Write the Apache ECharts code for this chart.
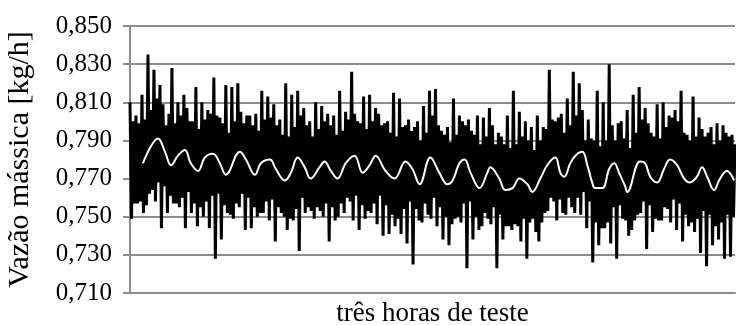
<!DOCTYPE html>
<html>
<head>
<meta charset="utf-8">
<script src="https://cdn.jsdelivr.net/npm/echarts@6/dist/echarts.min.js"></script>
<style>
  html, body { margin: 0; padding: 0; background: #fff; }
  #chart { width: 736px; height: 325px; }
</style>
</head>
<body>
<div id="chart"></div>
<script>
// medição bruta (picos e vales + núcleo denso)
const vazao = [
  0.810,0.749,0.800,0.757, 0.803,0.757,0.799,0.758, 0.814,0.752,0.801,0.756, 0.835,0.762,0.806,0.764,
  0.827,0.758,0.812,0.768, 0.819,0.744,0.809,0.766, 0.798,0.752,0.804,0.761, 0.828,0.757,0.799,0.757,
  0.810,0.755,0.803,0.760, 0.814,0.744,0.807,0.763, 0.800,0.752,0.800,0.757, 0.818,0.745,0.796,0.755,
  0.810,0.750,0.801,0.758, 0.806,0.744,0.804,0.761, 0.823,0.728,0.803,0.762, 0.802,0.738,0.799,0.756,
  0.819,0.752,0.794,0.751, 0.818,0.749,0.800,0.757, 0.820,0.755,0.805,0.762, 0.799,0.743,0.803,0.760,
  0.803,0.744,0.798,0.755, 0.804,0.750,0.795,0.752, 0.816,0.752,0.801,0.758, 0.813,0.748,0.802,0.759,
  0.809,0.737,0.798,0.755, 0.801,0.752,0.793,0.750, 0.820,0.743,0.792,0.749, 0.814,0.748,0.797,0.754,
  0.816,0.732,0.803,0.760, 0.807,0.752,0.798,0.755, 0.800,0.753,0.792,0.749, 0.810,0.755,0.796,0.753,
  0.808,0.750,0.800,0.757, 0.804,0.737,0.798,0.755, 0.803,0.748,0.793,0.750, 0.816,0.757,0.795,0.752,
  0.805,0.760,0.801,0.758, 0.826,0.748,0.804,0.761, 0.800,0.743,0.799,0.756, 0.813,0.749,0.796,0.753,
  0.814,0.752,0.800,0.757, 0.807,0.746,0.804,0.761, 0.798,0.740,0.799,0.756, 0.800,0.741,0.794,0.751,
  0.815,0.745,0.792,0.749, 0.812,0.741,0.797,0.754, 0.798,0.736,0.801,0.758, 0.795,0.725,0.797,0.754,
  0.800,0.748,0.790,0.747, 0.808,0.757,0.794,0.751, 0.816,0.749,0.803,0.760, 0.817,0.745,0.798,0.755,
  0.795,0.738,0.793,0.750, 0.797,0.735,0.789,0.746, 0.812,0.749,0.793,0.750, 0.803,0.747,0.800,0.757,
  0.798,0.723,0.801,0.758, 0.795,0.738,0.793,0.750, 0.803,0.743,0.788,0.745, 0.802,0.752,0.792,0.749,
  0.807,0.746,0.798,0.755, 0.788,0.723,0.794,0.751, 0.792,0.738,0.788,0.745, 0.803,0.745,0.786,0.743,
  0.816,0.746,0.788,0.745, 0.805,0.737,0.792,0.749, 0.800,0.728,0.790,0.747, 0.797,0.749,0.785,0.742,
  0.803,0.737,0.790,0.747, 0.797,0.752,0.796,0.753, 0.827,0.760,0.801,0.758, 0.800,0.748,0.802,0.759,
  0.804,0.752,0.794,0.751, 0.812,0.760,0.798,0.755, 0.826,0.752,0.803,0.760, 0.820,0.751,0.806,0.763,
  0.790,0.744,0.801,0.758, 0.791,0.726,0.790,0.747, 0.816,0.735,0.787,0.744, 0.810,0.744,0.790,0.747,
  0.830,0.736,0.798,0.755, 0.790,0.728,0.799,0.756, 0.800,0.749,0.791,0.748, 0.806,0.740,0.786,0.743,
  0.814,0.748,0.794,0.751, 0.818,0.752,0.801,0.758, 0.807,0.733,0.799,0.756, 0.794,0.742,0.792,0.749,
  0.809,0.748,0.791,0.748, 0.810,0.755,0.797,0.754, 0.803,0.747,0.802,0.759, 0.806,0.743,0.800,0.757,
  0.816,0.737,0.794,0.751, 0.793,0.745,0.790,0.747, 0.813,0.742,0.792,0.749, 0.802,0.731,0.796,0.753,
  0.792,0.724,0.794,0.751, 0.797,0.735,0.788,0.745, 0.799,0.738,0.790,0.747, 0.798,0.728,0.794,0.751,
  0.792,0.729,0.793,0.750, 0.788
];

// média móvel (linha branca): posição em amostras e valor
const mediaPos = [
  8.6, 14, 18.6, 23.4, 27.4, 32, 36.6, 40.6, 45.4, 50, 55.4, 60, 64, 73.4, 77.4, 83.4, 87.4, 93.4, 97.4, 103.4,
  107.4, 112, 116.6, 120.6, 126.6, 130, 133.4, 138.6, 144, 150, 155.4, 160, 164, 170.6, 176.6, 184, 188.6, 193.4, 200.6, 206.6,
  212, 215.4, 220, 223.4, 227.4, 233.4, 238.6, 240.6, 246.6, 250.6, 255.4, 260, 265.4, 268.6, 274, 278.6, 284, 287.4, 290, 294,
  297.4, 302, 305.4, 308.6, 310.6, 315.4, 320, 323.4, 326.6, 330.6, 332, 340.6, 344, 347.4, 352, 356.6, 360.6, 365.4, 370, 374,
  378.6, 382, 385.4, 390, 394, 398.6, 403.4
];
const mediaVal = [
  0.778, 0.787, 0.791, 0.784, 0.777, 0.782, 0.785, 0.778, 0.774, 0.781, 0.783, 0.778, 0.772, 0.784, 0.780, 0.772, 0.778, 0.780, 0.775, 0.769,
  0.773, 0.781, 0.776, 0.770, 0.776, 0.779, 0.775, 0.770, 0.778, 0.782, 0.773, 0.777, 0.782, 0.774, 0.770, 0.779, 0.775, 0.767, 0.781, 0.773,
  0.767, 0.769, 0.778, 0.780, 0.773, 0.765, 0.773, 0.776, 0.770, 0.764, 0.765, 0.770, 0.767, 0.763, 0.770, 0.777, 0.781, 0.773, 0.771, 0.778,
  0.782, 0.784, 0.777, 0.768, 0.765, 0.765, 0.775, 0.778, 0.773, 0.766, 0.763, 0.779, 0.778, 0.771, 0.768, 0.775, 0.780, 0.777, 0.770, 0.768,
  0.771, 0.776, 0.771, 0.764, 0.770, 0.774, 0.769
];

const yMin = 0.71;
const yMax = 0.85;
const yStep = 0.02;

const chart = echarts.init(document.getElementById('chart'));
const cinza = '#8c8c8c';
const fonte = '"Liberation Serif", "Times New Roman", serif';

chart.setOption({
  animation: false,
  grid: { left: 130, right: 1, top: 26, bottom: 32, outerBoundsMode: 'none' },
  xAxis: {
    type: 'value',
    min: 0,
    max: vazao.length - 1,
    name: 'três horas de teste',
    nameLocation: 'middle',
    nameGap: 7,
    nameTextStyle: { fontFamily: fonte, fontSize: 27, color: '#000' },
    axisLine: { show: true, lineStyle: { color: cinza, width: 2 } },
    axisTick: { show: false },
    axisLabel: { show: false },
    splitLine: { show: false }
  },
  yAxis: {
    type: 'value',
    min: yMin,
    max: yMax,
    interval: yStep,
    name: 'Vazão mássica [kg/h]',
    nameLocation: 'middle',
    nameGap: 95,
    nameTextStyle: { fontFamily: fonte, fontSize: 30, color: '#000' },
    axisLine: { show: true, lineStyle: { color: cinza, width: 2 } },
    axisTick: { show: true, length: 7, lineStyle: { color: cinza, width: 2 } },
    axisLabel: {
      margin: 18,
      fontFamily: fonte,
      fontSize: 25,
      color: '#000',
      formatter: v => v.toFixed(3).replace('.', ',')
    },
    splitLine: { show: true, lineStyle: { color: cinza, width: 2 } }
  },
  series: [
    {
      type: 'line',
      data: vazao.map((v, i) => [i, v]),
      showSymbol: false,
      lineStyle: { color: '#000', width: 3 },
      z: 2
    },
    {
      type: 'line',
      data: mediaPos.map((p, i) => [p, mediaVal[i]]),
      showSymbol: false,
      smooth: 0.4,
      lineStyle: { color: '#fff', width: 2 },
      z: 3
    }
  ]
});
</script>
</body>
</html>
